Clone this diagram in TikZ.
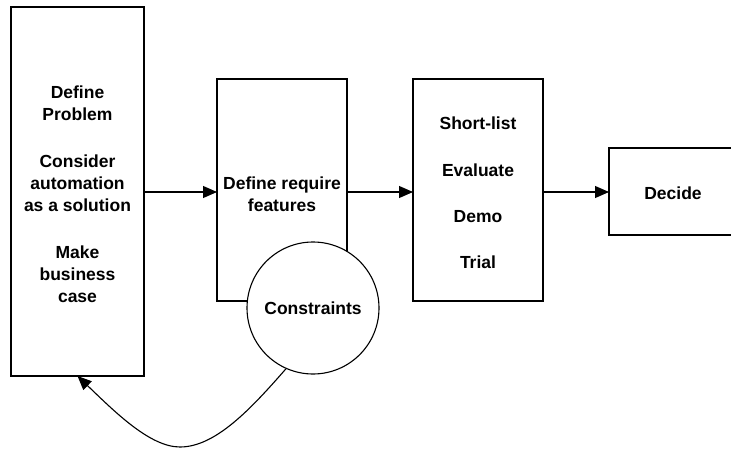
\documentclass[tikz,border=0pt]{standalone}
\usepackage{fontspec}
\setmainfont{Liberation Sans}
\usetikzlibrary{arrows.meta}
\begin{document}
\begin{tikzpicture}[x=1pt,y=-1pt,
  line width=1.1pt,
  txt/.style={font=\fontsize{17.5}{22}\selectfont\bfseries},
  stage/.style={draw,rectangle,inner sep=0pt,outer sep=0pt,txt,align=center},
  flow/.style={-{Triangle[length=14pt,width=12pt]}}]
  \useasboundingbox (0,0) rectangle (731,450);

  % process stages
  \node[stage,minimum width=133pt,minimum height=369pt] (b1) at (77.5,191.5) {};
  \node[txt,align=center] (t1) at (77.5,194)
    {Define\\Problem\\[25pt]Consider\\automation\\as a solution\\[25pt]Make\\business\\case};
  \node[stage,minimum width=130pt,minimum height=222pt] (b2) at (282,190) {};
  \node[txt,align=center] (t2) at (282,194) {Define require\\features};
  \node[stage,minimum width=130pt,minimum height=222pt] (b3) at (478,190) {};
  \node[txt,align=center] (t3) at (478,193)
    {Short-list\\[24.3pt]Evaluate\\[24.3pt]Demo\\[24.3pt]Trial};
  % last stage runs past the right margin, so its right side is not drawn
  \node[inner sep=0pt,outer sep=0pt,minimum width=122pt,minimum height=87pt] (b4) at (670,191.5) {};
  \draw (b4.north east) -- (b4.north west) -- (b4.south west) -- (b4.south east);
  \node[txt] (t4) at (673,193) {Decide};

  % constraints overlapping the requirements stage
  \node[draw,circle,fill=white,minimum size=132pt,inner sep=0pt,txt] (c) at (313,308) {Constraints};

  % forward flow
  \draw[flow] (b1.east |- 0,192) -- (b2.west |- 0,192);
  \draw[flow] (b2.east |- 0,192) -- (b3.west |- 0,192);
  \draw[flow] (b3.east |- 0,192) -- (b4.west |- 0,192);

  % feedback from constraints
  \draw[flow,line join=round] (c.246) .. controls (250,410) and (215,447) .. (180,447)
    .. controls (150,447) and (115,412) .. (b1.south);
\end{tikzpicture}
\end{document}
